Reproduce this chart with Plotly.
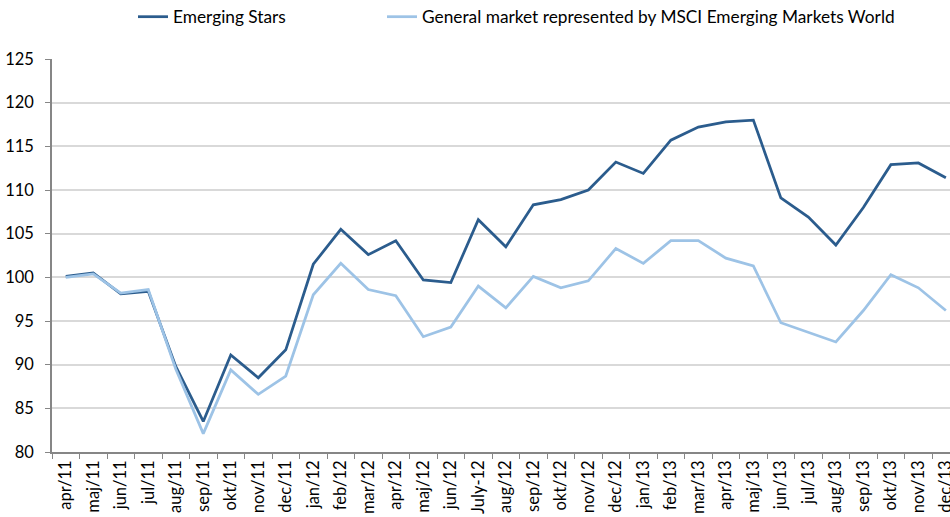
import plotly.graph_objects as go

months = ["apr/11", "maj/11", "jun/11", "jul/11", "aug/11", "sep/11", "okt/11", "nov/11",
          "dec/11", "jan/12", "feb/12", "mar/12", "apr/12", "maj/12", "jun/12", "July-12",
          "aug/12", "sep/12", "okt/12", "nov/12", "dec/12", "jan/13", "feb/13", "mar/13",
          "apr/13", "maj/13", "jun/13", "jul/13", "aug/13", "sep/13", "okt/13", "nov/13", "dec/13"]

emerging_stars = [100.1, 100.5, 98.1, 98.4, 89.8, 83.5, 91.1, 88.5, 91.7, 101.5, 105.5, 102.6,
                  104.2, 99.7, 99.4, 106.6, 103.5, 108.3, 108.9, 110.0, 113.2, 111.9, 115.7,
                  117.2, 117.8, 118.0, 109.1, 106.9, 103.7, 108.0, 112.9, 113.1, 111.4]

msci_em = [100.0, 100.4, 98.2, 98.6, 89.5, 82.1, 89.4, 86.6, 88.7, 98.0, 101.6, 98.6,
           97.9, 93.2, 94.3, 99.0, 96.5, 100.1, 98.8, 99.6, 103.3, 101.6, 104.2,
           104.2, 102.2, 101.3, 94.8, 93.7, 92.6, 96.2, 100.3, 98.8, 96.2]

y_ticks = [80, 85, 90, 95, 100, 105, 110, 115, 120, 125]

FONT = "Lato"

fig = go.Figure()
fig.add_trace(go.Scatter(x=months, y=emerging_stars, mode="lines", name="Emerging Stars",
                         line=dict(color="#2B5C8D", width=2.75), legend="legend",
                         showlegend=True))
fig.add_trace(go.Scatter(x=months, y=msci_em, mode="lines",
                         name="General market represented by MSCI Emerging Markets World",
                         line=dict(color="#9DC3E6", width=2.75), legend="legend2",
                         showlegend=True))

fig.update_layout(
    width=950, height=517,
    margin=dict(l=52, r=0, t=59, b=65, autoexpand=False),
    paper_bgcolor="white", plot_bgcolor="white",
    showlegend=True,
    font=dict(family=FONT, size=17, color="#000000"),
    legend=dict(orientation="h", x=0.0902, y=1.107, xanchor="left", yanchor="middle",
                font=dict(size=17.3), itemwidth=30, bgcolor="rgba(0,0,0,0)"),
    legend2=dict(orientation="h", x=0.3675, y=1.107, xanchor="left", yanchor="middle",
                 font=dict(size=17.3), itemwidth=30, bgcolor="rgba(0,0,0,0)"),
    xaxis=dict(type="category", range=[-0.5, 32.15], tickangle=-90, automargin=False,
               tickson="boundaries", ticks="outside", ticklen=5, tickcolor="#868686",
               showline=True, linecolor="#868686", linewidth=1.5, showgrid=False,
               tickfont=dict(family=FONT, size=16.5)),
    yaxis=dict(range=[80, 125], tickvals=y_ticks, ticks="outside", ticklen=5,
               automargin=False,
               tickcolor="#868686", showline=True, linecolor="#868686", linewidth=1.5,
               showgrid=True, gridcolor="#D9D9D9", gridwidth=1.5, zeroline=False,
               tickfont=dict(family=FONT, size=16.5), ticklabelstandoff=8),
)

fig.write_html("out.html", config={"displayModeBar": False},
               post_script="document.body.style.margin='0px';document.body.style.overflow='hidden';")
